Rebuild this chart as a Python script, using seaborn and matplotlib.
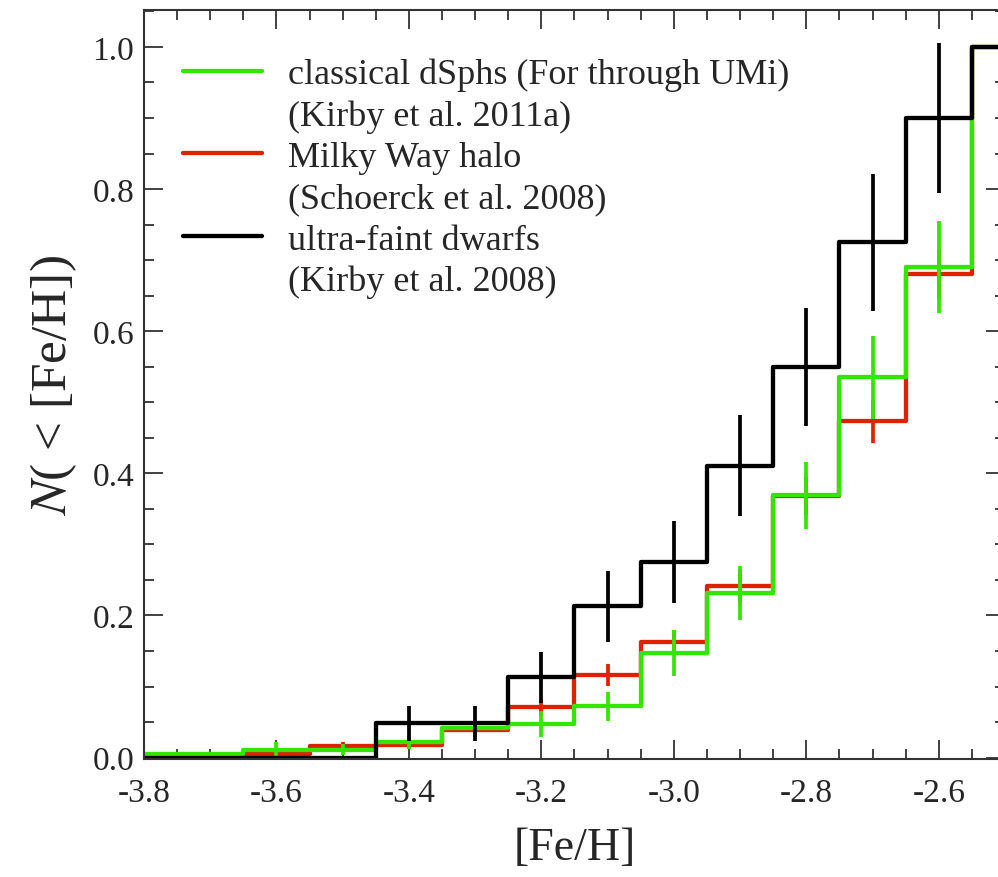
import numpy as np
import pandas as pd
import matplotlib
matplotlib.use("Agg")
import matplotlib.pyplot as plt
from matplotlib.lines import Line2D
import seaborn as sns

# bin centres in [Fe/H]
feh = [-3.8, -3.7, -3.6, -3.5, -3.4, -3.3, -3.2, -3.1, -3.0, -2.9, -2.8, -2.7, -2.6, -2.5]

# cumulative fractions
dsph = [0.005, 0.005, 0.010, 0.011, 0.022, 0.041, 0.047, 0.072, 0.147, 0.232, 0.369, 0.535, 0.690, 1.0]
dsph_err = [0.003, 0.003, 0.012, 0.008, 0.010, 0.012, 0.018, 0.020, 0.032, 0.038, 0.047, 0.058, 0.065, 0.0]

halo = [0.0, 0.0, 0.005, 0.016, 0.018, 0.039, 0.071, 0.116, 0.162, 0.241, 0.368, 0.473, 0.680, 1.0]
halo_err = [0.0, 0.0, 0.004, 0.006, 0.006, 0.009, 0.012, 0.015, 0.018, 0.022, 0.027, 0.030, 0.035, 0.0]

ufd = [0.0, 0.0, 0.0, 0.0, 0.048, 0.048, 0.113, 0.213, 0.275, 0.411, 0.550, 0.725, 0.900, 1.0]
ufd_err = [0.0, 0.0, 0.0, 0.0, 0.024, 0.024, 0.036, 0.050, 0.058, 0.071, 0.083, 0.096, 0.105, 0.0]

samples = ["Milky Way halo", "classical dSphs", "ultra-faint dwarfs"]
labels = {
    "classical dSphs": ["classical dSphs (For through UMi)", "(Kirby et al. 2011a)"],
    "Milky Way halo": ["Milky Way halo", "(Schoerck et al. 2008)"],
    "ultra-faint dwarfs": ["ultra-faint dwarfs", "(Kirby et al. 2008)"],
}
colors = {"classical dSphs": "#33e600", "Milky Way halo": "#dd2200", "ultra-faint dwarfs": "black"}

df = pd.concat([
    pd.DataFrame({"feh": feh, "frac": halo, "err": halo_err, "sample": "Milky Way halo"}),
    pd.DataFrame({"feh": feh, "frac": dsph, "err": dsph_err, "sample": "classical dSphs"}),
    pd.DataFrame({"feh": feh, "frac": ufd, "err": ufd_err, "sample": "ultra-faint dwarfs"}),
])

sns.set_style("ticks")
plt.rcParams["font.family"] = ["Liberation Serif", "DejaVu Serif"]
plt.rcParams["mathtext.fontset"] = "stix"

fig = plt.figure(figsize=(9.98, 8.78), dpi=100)
ax = fig.add_axes([144 / 998, 1 - 760 / 878, 861 / 998, 749 / 878])

lw = 3.1
for s in samples:
    sub = df[df["sample"] == s]
    sns.lineplot(data=sub, x="feh", y="frac", color=colors[s], lw=lw,
                 drawstyle="steps-mid", ax=ax, legend=False)
    ax.errorbar(sub["feh"], sub["frac"], yerr=sub["err"], fmt="none",
                ecolor=colors[s], elinewidth=2.7, capsize=0)

ax.set_xlim(-3.794, -2.5)
ax.set_ylim(-0.002, 1.052)
ax.set_xticks(np.arange(-3.8, -2.55, 0.2))
ax.set_xticks(np.arange(-3.8, -2.49, 0.05), minor=True)
ax.set_yticks(np.arange(0, 1.01, 0.2))
ax.set_yticks(np.arange(0, 1.051, 0.05), minor=True)
ax.set_xticklabels([f"{v:.1f}" for v in np.arange(-3.8, -2.55, 0.2)])
ax.set_yticklabels([f"{v:.1f}" for v in np.arange(0, 1.01, 0.2)])

ax.tick_params(which="both", direction="in", top=True, right=True, width=1.3, color="#333333")
ax.tick_params(which="major", length=14, labelsize=24)
ax.tick_params(axis="x", which="major", pad=13)
ax.tick_params(axis="y", which="major", pad=7)
ax.tick_params(which="minor", length=7)
for sp in ax.spines.values():
    sp.set_linewidth(1.5)
    sp.set_color("#333333")

ax.set_xlabel("[Fe/H]", fontsize=33, labelpad=14)
ax.set_ylabel(r"$N$( < [Fe/H])", fontsize=37, labelpad=10)

handles, texts = [], []
for s in ["classical dSphs", "Milky Way halo", "ultra-faint dwarfs"]:
    handles.append(Line2D([], [], color=colors[s], lw=lw))
    texts.append(labels[s][0])
    handles.append(Line2D([], [], color="none"))
    texts.append(labels[s][1])
ax.legend(handles, texts, loc="upper left", bbox_to_anchor=(0.045, 0.936), frameon=False,
          fontsize=26, handlelength=2.19, handletextpad=0.72, labelspacing=0.22,
          borderpad=0, borderaxespad=0)

fig.savefig("out.png", dpi=100)
